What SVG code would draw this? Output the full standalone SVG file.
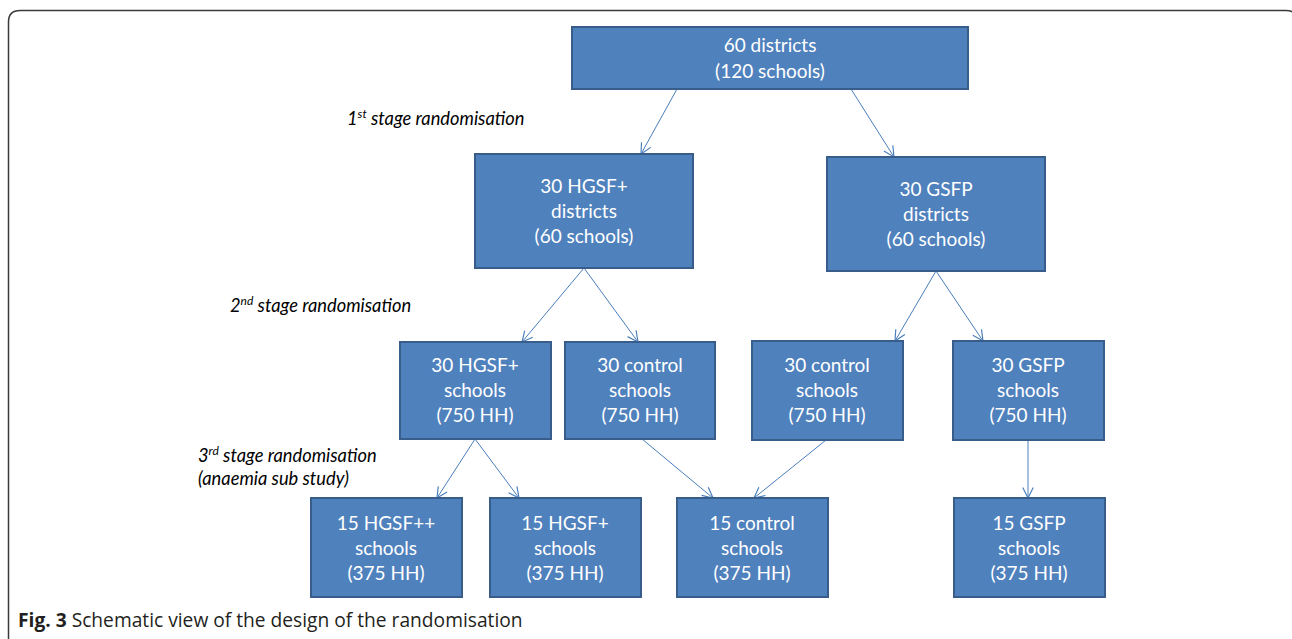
<svg xmlns="http://www.w3.org/2000/svg" width="1292" height="639" viewBox="0 0 1292 639">
<style>
.box{fill:#4F81BD;stroke:#385D8A;stroke-width:2}
.bt{font-family:Lato,"Open Sans",sans-serif;font-size:19px;fill:#FFFFFF;text-anchor:middle}
.lbl{font-family:Lato,"Open Sans",sans-serif;font-size:18.3px;font-style:italic;fill:#000000}
.conn line{stroke:#4A7EBB;stroke-width:1;fill:none;marker-end:url(#arr)}
.cap{font-family:"Open Sans",Lato,sans-serif;font-size:19.2px;fill:#231F20}
</style>
<defs>
<marker id="arr" markerUnits="userSpaceOnUse" markerWidth="14" markerHeight="14" refX="10" refY="5" orient="auto" viewBox="0 0 12 10">
<path d="M1,0.5 L10,5 L1,9.5" fill="none" stroke="#4A7EBB" stroke-width="1"/>
</marker>
</defs>
<rect width="1292" height="639" fill="#FFFFFF"/>
<path d="M8.5,645 L8.5,22 Q8.5,10.5 20,10.5 L1286,10.5 Q1297,10.5 1298,22" fill="none" stroke="#3a3a3a" stroke-width="1.5"/>

<g class="conn">
<line x1="677" y1="89" x2="641" y2="154"/>
<line x1="851" y1="89" x2="894" y2="157"/>
<line x1="584" y1="268" x2="522" y2="342"/>
<line x1="584" y1="268" x2="638" y2="342"/>
<line x1="936" y1="271" x2="895" y2="341"/>
<line x1="936" y1="271" x2="983" y2="341"/>
<line x1="475" y1="439" x2="437" y2="498"/>
<line x1="475" y1="439" x2="519" y2="498"/>
<line x1="642" y1="439" x2="713" y2="498"/>
<line x1="826" y1="440" x2="754" y2="498"/>
<line x1="1028" y1="440" x2="1028" y2="498"/>
</g>

<g id="n-top">
<rect class="box" x="572" y="27" width="396" height="62"/>
<text class="bt" x="770" y="52">60 districts</text>
<text class="bt" x="770" y="78">(120 schools)</text>
</g>
<g id="n-hgsf-d">
<rect class="box" x="475" y="154" width="218" height="114"/>
<text class="bt" x="584" y="193">30 HGSF+</text>
<text class="bt" x="584" y="218">districts</text>
<text class="bt" x="584" y="243">(60 schools)</text>
</g>
<g id="n-gsfp-d">
<rect class="box" x="827" y="157" width="218" height="114"/>
<text class="bt" x="936" y="196">30 GSFP</text>
<text class="bt" x="936" y="221">districts</text>
<text class="bt" x="936" y="246">(60 schools)</text>
</g>
<g id="n-hgsf-s">
<rect class="box" x="400" y="342" width="151" height="97"/>
<text class="bt" x="475" y="372">30 HGSF+</text>
<text class="bt" x="475" y="397">schools</text>
<text class="bt" x="475" y="422">(750 HH)</text>
</g>
<g id="n-ctrl-s1">
<rect class="box" x="565" y="342" width="150" height="97"/>
<text class="bt" x="640" y="372">30 control</text>
<text class="bt" x="640" y="397">schools</text>
<text class="bt" x="640" y="422">(750 HH)</text>
</g>
<g id="n-ctrl-s2">
<rect class="box" x="752" y="341" width="151" height="99"/>
<text class="bt" x="827" y="372">30 control</text>
<text class="bt" x="827" y="397">schools</text>
<text class="bt" x="827" y="422">(750 HH)</text>
</g>
<g id="n-gsfp-s">
<rect class="box" x="953" y="341" width="151" height="99"/>
<text class="bt" x="1028" y="372">30 GSFP</text>
<text class="bt" x="1028" y="397">schools</text>
<text class="bt" x="1028" y="422">(750 HH)</text>
</g>
<g id="n-hgsfpp">
<rect class="box" x="311" y="498" width="151" height="99"/>
<text class="bt" x="386" y="530">15 HGSF++</text>
<text class="bt" x="386" y="555">schools</text>
<text class="bt" x="386" y="580">(375 HH)</text>
</g>
<g id="n-hgsfp15">
<rect class="box" x="490" y="498" width="151" height="99"/>
<text class="bt" x="565" y="530">15 HGSF+</text>
<text class="bt" x="565" y="555">schools</text>
<text class="bt" x="565" y="580">(375 HH)</text>
</g>
<g id="n-ctrl15">
<rect class="box" x="677" y="498" width="151" height="99"/>
<text class="bt" x="752" y="530">15 control</text>
<text class="bt" x="752" y="555">schools</text>
<text class="bt" x="752" y="580">(375 HH)</text>
</g>
<g id="n-gsfp15">
<rect class="box" x="954" y="498" width="151" height="99"/>
<text class="bt" x="1029" y="530">15 GSFP</text>
<text class="bt" x="1029" y="555">schools</text>
<text class="bt" x="1029" y="580">(375 HH)</text>
</g>

<g id="labels">
<text class="lbl" x="347" y="125">1<tspan font-size="12" dy="-7">st</tspan><tspan dy="7"> stage randomisation</tspan></text>
<text class="lbl" x="230" y="312">2<tspan font-size="12" dy="-7">nd</tspan><tspan dy="7"> stage randomisation</tspan></text>
<text class="lbl" x="198" y="462">3<tspan font-size="12" dy="-7">rd</tspan><tspan dy="7"> stage randomisation</tspan></text>
<text class="lbl" x="198" y="485">(anaemia sub study)</text>
</g>

<text class="cap" x="18" y="627"><tspan font-weight="bold">Fig. 3</tspan> Schematic view of the design of the randomisation</text>
</svg>
